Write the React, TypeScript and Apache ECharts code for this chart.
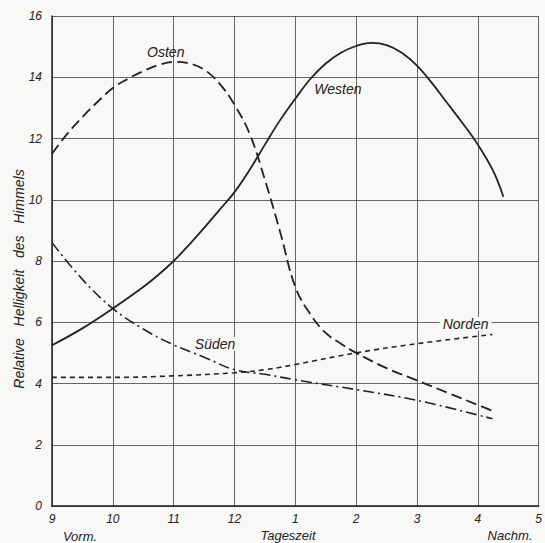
import React, { useEffect, useRef } from "react";
import * as echarts from "echarts";

// hours: 9..17 (13 = 1 p.m., etc.)
const westenX = [9, 9.5, 10, 10.5, 10.75, 11, 11.25, 11.5, 11.75, 12, 12.25, 12.5, 12.75, 13, 13.25, 13.5, 13.75, 14, 14.25, 14.5, 14.75, 15, 15.25, 15.5, 15.75, 16, 16.25, 16.42];
const westenY = [5.25, 5.8, 6.45, 7.15, 7.55, 8.0, 8.52, 9.08, 9.66, 10.25, 10.98, 11.8, 12.6, 13.3, 13.95, 14.45, 14.8, 15.02, 15.12, 15.05, 14.8, 14.38, 13.8, 13.15, 12.5, 11.8, 10.95, 10.1];

const ostenX = [9, 9.25, 9.5, 9.75, 10, 10.25, 10.5, 10.75, 11, 11.25, 11.5, 11.75, 12, 12.25, 12.5, 12.75, 13, 13.25, 13.5, 13.75, 14, 14.5, 15, 15.5, 16, 16.25];
const ostenY = [11.5, 12.15, 12.7, 13.2, 13.65, 13.95, 14.2, 14.4, 14.5, 14.45, 14.25, 13.8, 13.1, 12.15, 10.65, 8.95, 7.15, 6.25, 5.65, 5.3, 5.0, 4.5, 4.1, 3.7, 3.3, 3.1];

const suedenX = [9, 9.5, 10, 10.5, 11, 11.5, 12, 12.5, 13, 14, 15, 16.24];
const suedenY = [8.6, 7.4, 6.45, 5.78, 5.26, 4.86, 4.45, 4.3, 4.12, 3.8, 3.45, 2.85];

const nordenX = [9, 10, 11, 12, 12.5, 13, 14, 15, 16.24];
const nordenY = [4.2, 4.2, 4.25, 4.35, 4.45, 4.62, 5.0, 5.3, 5.6];

const seriesNames = ["Westen", "Osten", "Süden", "Norden"];
const labelPos: [number, number][] = [
  [13.7, 13.63],
  [10.87, 14.84],
  [11.68, 5.29],
  [15.8, 5.95],
];

const xTicks = [9, 10, 11, 12, 13, 14, 15, 16, 17];
const yTicks = [0, 2, 4, 6, 8, 10, 12, 14, 16];

const BG = "#f8f8f6";
const INK = "#222";
const FONT = "Liberation Sans";

function zip(xs: number[], ys: number[]) {
  return xs.map((x, i) => [x, ys[i]]);
}

export default function App() {
  const ref = useRef<HTMLDivElement>(null);
  useEffect(() => {
    if (!ref.current) return;
    const chart = echarts.init(ref.current, undefined, { renderer: "svg" });
    const lineBase = { type: "line", showSymbol: false, smooth: 0.4, silent: true };
    chart.setOption({
      animation: false,
      backgroundColor: BG,
      grid: { left: 52, right: 1, top: 16, bottom: 37 },
      xAxis: {
        type: "value",
        min: xTicks[0],
        max: xTicks[xTicks.length - 1],
        interval: 1,
        axisLine: { show: true, onZero: false, lineStyle: { color: INK, width: 1.5 } },
        axisTick: { show: false },
        splitLine: { show: true, lineStyle: { color: "#555", width: 0.9 } },
        axisLabel: {
          color: INK,
          fontStyle: "italic",
          fontFamily: FONT,
          fontSize: 12,
          margin: 7,
          formatter: (v: number) => String(v > 12 ? v - 12 : v),
        },
      },
      yAxis: {
        type: "value",
        min: yTicks[0],
        max: yTicks[yTicks.length - 1],
        interval: 2,
        axisLine: { show: true, lineStyle: { color: INK, width: 1.5 } },
        axisTick: { show: false },
        splitLine: { show: true, lineStyle: { color: "#555", width: 0.9 } },
        axisLabel: { color: INK, fontStyle: "italic", fontFamily: FONT, fontSize: 12, margin: 10 },
      },
      series: [
        { ...lineBase, name: "Westen", data: zip(westenX, westenY), lineStyle: { color: INK, width: 1.8 } },
        { ...lineBase, name: "Osten", data: zip(ostenX, ostenY), lineStyle: { color: INK, width: 1.8, type: [11, 5] } },
        { ...lineBase, name: "Süden", data: zip(suedenX, suedenY), lineStyle: { color: INK, width: 1.6, type: [11, 4, 2, 4] } },
        { ...lineBase, name: "Norden", data: zip(nordenX, nordenY), lineStyle: { color: INK, width: 1.6, type: [5, 4] } },
      ],
    });
    const texts: any[] = seriesNames.map((n, i) => {
      const p = chart.convertToPixel({ gridIndex: 0 }, labelPos[i]) as number[];
      return {
        type: "text",
        x: p[0],
        y: p[1],
        style: {
          text: n,
          fill: INK,
          font: `italic 14px ${FONT}`,
          align: "center",
          verticalAlign: "middle",
          backgroundColor: i >= 2 ? BG : undefined,
          padding: [0, 3],
        },
      };
    });
    texts.push(
      { type: "text", x: 80, y: 536, style: { text: "Vorm.", fill: INK, font: `italic 13px ${FONT}`, align: "center", verticalAlign: "middle" } },
      { type: "text", x: 288, y: 535, style: { text: "Tageszeit", fill: INK, font: `italic 13px ${FONT}`, align: "center", verticalAlign: "middle" } },
      { type: "text", x: 510, y: 535, style: { text: "Nachm.", fill: INK, font: `italic 13px ${FONT}`, align: "center", verticalAlign: "middle" } },
      {
        type: "text",
        x: 19,
        y: 279,
        rotation: Math.PI / 2,
        style: { text: "Relative   Helligkeit   des   Himmels", fill: INK, font: `italic 14px ${FONT}`, align: "center", verticalAlign: "middle" },
      }
    );
    chart.setOption({ graphic: texts });
    return () => chart.dispose();
  }, []);
  return <div ref={ref} style={{ position: "fixed", left: 0, top: 0, width: 545, height: 543 }} />;
}
